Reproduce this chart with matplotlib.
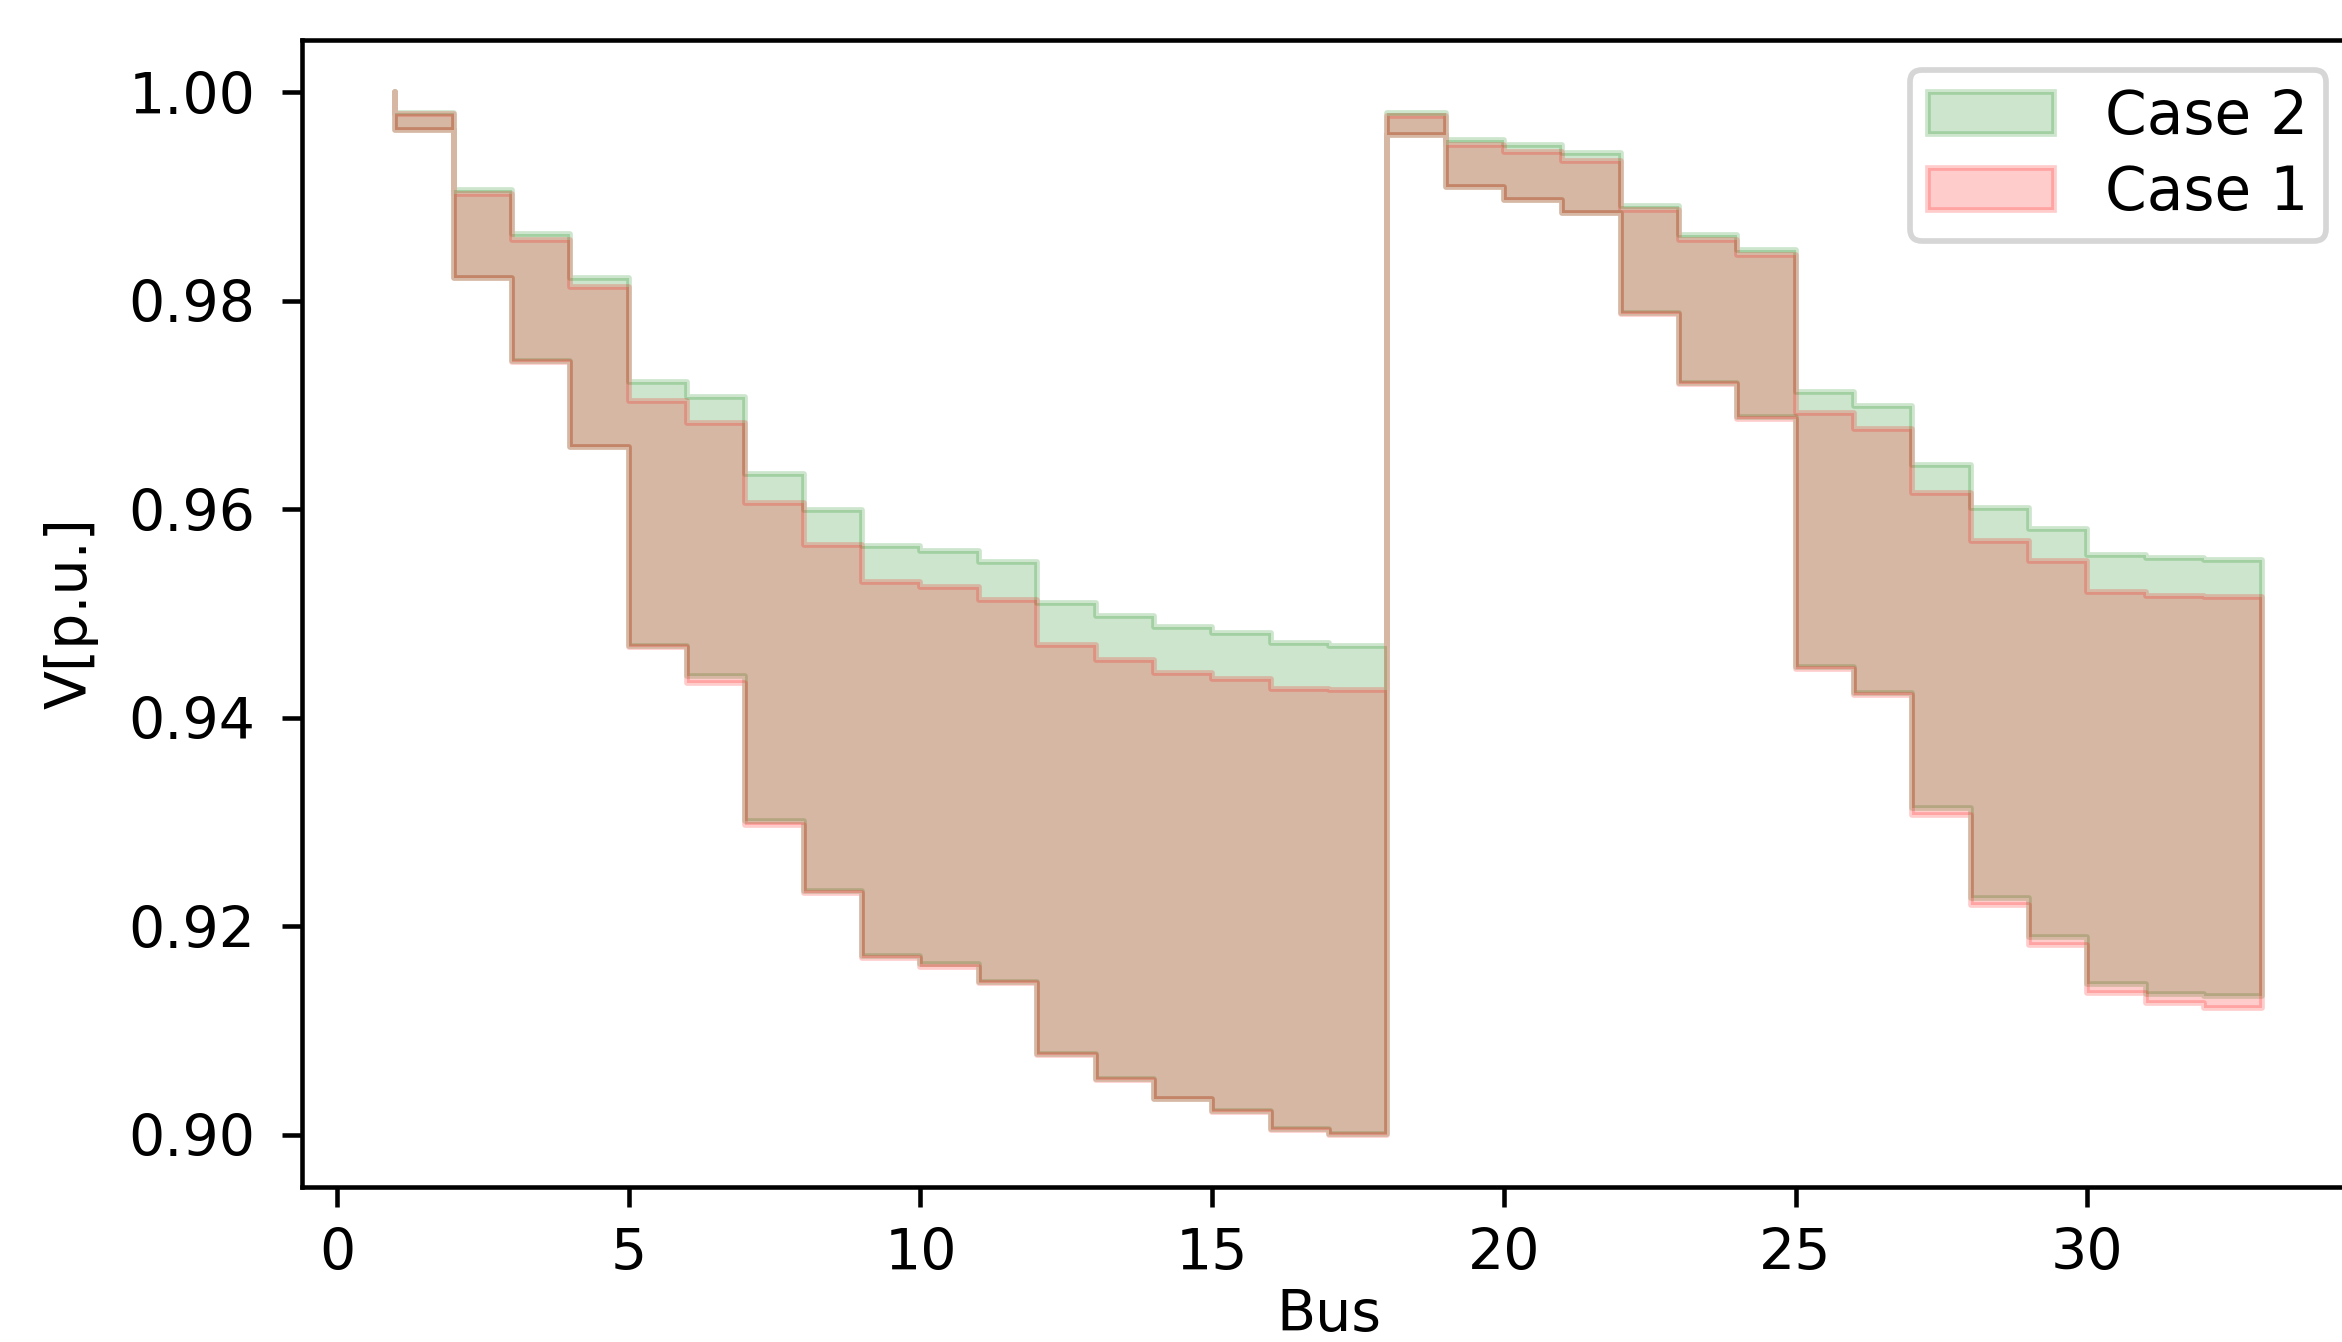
import numpy as np
import matplotlib
matplotlib.use('Agg')
import matplotlib.pyplot as plt

# バス番号 (IEEE 33 bus)
bus = np.arange(1, 34)

# Case 2 の電圧範囲 (上限・下限)
case2_upper = [1.0000, 0.9980, 0.9906, 0.9864, 0.9822, 0.9722, 0.9708, 0.9634, 0.9599, 0.9565,
               0.9560, 0.9549, 0.9510, 0.9498, 0.9487, 0.9481, 0.9472, 0.9469, 0.9980, 0.9954,
               0.9949, 0.9942, 0.9891, 0.9863, 0.9849, 0.9712, 0.9699, 0.9642, 0.9601, 0.9581,
               0.9556, 0.9553, 0.9551]
case2_lower = [1.0000, 0.9964, 0.9822, 0.9742, 0.9660, 0.9469, 0.9440, 0.9301, 0.9234, 0.9172,
               0.9164, 0.9147, 0.9078, 0.9054, 0.9034, 0.9023, 0.9006, 0.9001, 0.9959, 0.9909,
               0.9897, 0.9884, 0.9788, 0.9721, 0.9688, 0.9449, 0.9424, 0.9313, 0.9227, 0.9190,
               0.9145, 0.9135, 0.9133]

# Case 1 の電圧範囲 (上限・下限)
case1_upper = [1.0000, 0.9979, 0.9902, 0.9858, 0.9813, 0.9704, 0.9683, 0.9606, 0.9566, 0.9530,
               0.9525, 0.9513, 0.9470, 0.9455, 0.9443, 0.9437, 0.9428, 0.9427, 0.9977, 0.9949,
               0.9943, 0.9934, 0.9887, 0.9858, 0.9844, 0.9692, 0.9677, 0.9616, 0.9570, 0.9550,
               0.9521, 0.9517, 0.9516]
case1_lower = [1.0000, 0.9964, 0.9822, 0.9741, 0.9660, 0.9468, 0.9433, 0.9297, 0.9232, 0.9170,
               0.9161, 0.9146, 0.9077, 0.9053, 0.9034, 0.9022, 0.9005, 0.9000, 0.9959, 0.9909,
               0.9897, 0.9884, 0.9787, 0.9720, 0.9687, 0.9447, 0.9422, 0.9307, 0.9220, 0.9182,
               0.9136, 0.9126, 0.9122]

DPI = 410
fig = plt.figure(figsize=(2342 / DPI, 1342 / DPI), dpi=DPI)
# 右端は元画像と同様に少しはみ出す
ax = fig.add_axes([0.129, 0.1155, 0.8768, 0.8547])

ax.fill_between(bus, case2_upper, case2_lower, step='pre', color='green', alpha=0.2, label='Case 2')
ax.fill_between(bus, case1_upper, case1_lower, step='pre', color='red', alpha=0.2, label='Case 1')

ax.tick_params(axis='y', pad=4.7)
ax.set_xlabel('Bus', labelpad=1.0)  # 下端で切れないように少し上げる
ax.set_ylabel('V[p.u.]', labelpad=5.2)
ax.legend(loc='upper right', labelspacing=0.28, borderpad=0.3, handlelength=2.1,
          handletextpad=0.85, fontsize=10.5)

fig.savefig('out.png', dpi=DPI)
